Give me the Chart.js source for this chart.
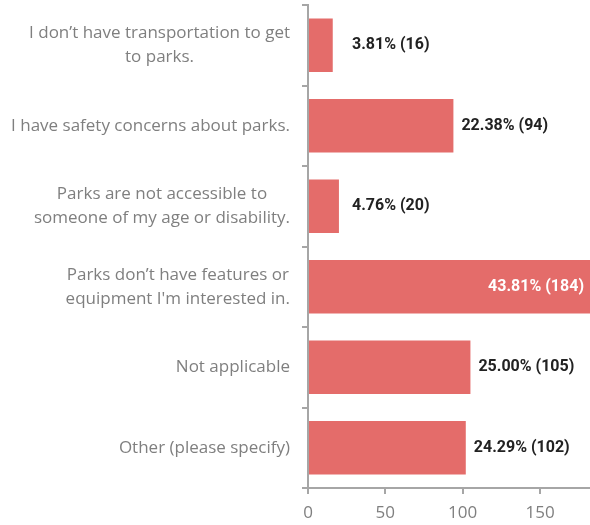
<!DOCTYPE html>
<html>
<head>
<meta charset="utf-8">
<script src="https://cdn.jsdelivr.net/npm/chart.js@4"></script>
<style>
  html, body { margin: 0; padding: 0; background: #fff; }
  #wrap { width: 590px; height: 525px; }
</style>
</head>
<body>
<div id="wrap"><canvas id="barChart" width="590" height="525"></canvas></div>
<script>
// survey answers, one per bar
const categories = [
    ['I don\u2019t have transportation to get', 'to parks.'],
    ['I have safety concerns about parks.'],
    ['Parks are not accessible to', 'someone of my age or disability.'],
    ['Parks don\u2019t have features or', "equipment I'm interested in."],
    ['Not applicable'],
    ['Other (please specify)']
];
const counts = [16, 94, 20, 184, 105, 102];
const percents = ['3.81%', '22.38%', '4.76%', '43.81%', '25.00%', '24.29%'];
const xTicks = [0, 50, 100, 150];

const barColor = '#e46c6a';
const axisColor = '#a6a6a6';
const labelFont = '17px "Open Sans", sans-serif';

// category labels: block right-aligned to the axis, lines centred in the block
const categoryLabels = {
    id: 'categoryLabels',
    afterDraw(chart) {
        const ctx = chart.ctx;
        const y = chart.scales.y;
        const right = y.right - 6 - 12;
        const lineH = 24;
        ctx.save();
        ctx.font = labelFont;
        ctx.fillStyle = '#7f7f7f';
        ctx.textAlign = 'center';
        ctx.textBaseline = 'middle';
        categories.forEach((lines, i) => {
            const block = Math.max(...lines.map(l => ctx.measureText(l).width));
            const cx = right - block / 2;
            const cy = y.getPixelForTick(i);
            lines.forEach((l, j) => {
                ctx.fillText(l, cx, cy + (j - (lines.length - 1) / 2) * lineH);
            });
        });
        ctx.restore();
    }
};

// draws "xx.xx% (n)" next to each bar, white inside the longest one
const valueLabels = {
    id: 'valueLabels',
    afterDatasetsDraw(chart) {
        const ctx = chart.ctx;
        const meta = chart.getDatasetMeta(0);
        const area = chart.chartArea;
        ctx.save();
        ctx.font = 'bold 16px Roboto, "Liberation Sans", sans-serif';
        ctx.textBaseline = 'middle';
        meta.data.forEach((bar, i) => {
            const text = percents[i] + ' (' + counts[i] + ')';
            const w = ctx.measureText(text).width;
            if (bar.x + 8 + w > area.right) {
                ctx.fillStyle = '#ffffff';
                ctx.textAlign = 'right';
                ctx.fillText(text, area.right - 6, bar.y);
            } else {
                ctx.fillStyle = '#222222';
                ctx.textAlign = 'left';
                ctx.fillText(text, Math.max(bar.x + 8, 352), bar.y);
            }
        });
        ctx.restore();
    }
};

new Chart(document.getElementById('barChart'), {
    type: 'bar',
    data: {
        labels: categories.map(c => c.join(' ')),
        datasets: [{
            data: counts,
            backgroundColor: barColor,
            borderWidth: 0,
            categoryPercentage: 1,
            barPercentage: 0.665
        }]
    },
    options: {
        indexAxis: 'y',
        responsive: false,
        animation: false,
        layout: { padding: { top: 5, right: 0, left: 0, bottom: 0 } },
        plugins: {
            legend: { display: false },
            tooltip: { enabled: false }
        },
        scales: {
            x: {
                min: 0,
                max: 182.3,
                afterFit: s => { s.height = 37; },
                afterBuildTicks: s => { s.ticks = xTicks.map(v => ({ value: v })); },
                border: { color: axisColor, width: 2 },
                grid: { drawOnChartArea: false, color: axisColor, lineWidth: 2, tickLength: 6 },
                ticks: {
                    color: '#7f7f7f',
                    padding: 9,
                    font: { family: '"Open Sans", sans-serif', size: 17 }
                }
            },
            y: {
                afterFit: s => { s.width = 308; s.paddingTop = 0; s.paddingBottom = 0; },
                border: { color: axisColor, width: 2 },
                grid: { drawOnChartArea: false, color: axisColor, lineWidth: 2, tickLength: 6, offset: true },
                ticks: {
                    callback: () => '',
                    padding: 12
                }
            }
        }
    },
    plugins: [categoryLabels, valueLabels]
});
</script>
</body>
</html>
